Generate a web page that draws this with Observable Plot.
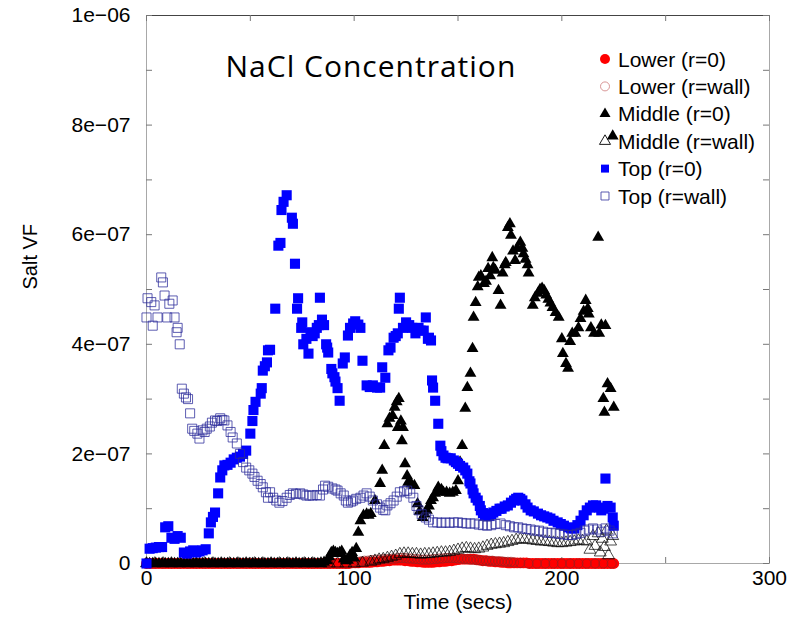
<!DOCTYPE html>
<html><head><meta charset="utf-8">
<script src="https://cdn.jsdelivr.net/npm/d3@7"></script>
<script src="https://cdn.jsdelivr.net/npm/@observablehq/plot@0.6"></script>
<style>body{margin:0;background:#fff;} #chart{width:806px;height:625px;}</style>
</head><body><div id="chart"></div>
<script>
// ---- Data: [time (s), Salt VF in units of 1e-7] ----
const lowerR0 = [[0,0],[1.5,0],[3,0],[4.5,0],[6,0],[7.5,0],[9,0],[10.5,0],[12,0],[13.5,0],[15,0],[16.5,0],[18,0],[19.5,0],[21,0],[22.5,0],[24,0],[25.5,0],[27,0],[28.5,0],[30,0],[31.5,0],[33,0],[34.5,0],[36,0],[37.5,0],[39,0],[40.5,0],[42,0],[43.5,0],[45,0],[46.5,0],[48,0],[49.5,0],[51,0],[52.5,0],[54,0],[55.5,0],[57,0],[58.5,0],[60,0],[61.5,0],[63,0],[64.5,0],[66,0],[67.5,0],[69,0],[70.5,0],[72,0],[73.5,0],[75,0],[76.5,0],[78,0],[79.5,0],[81,0],[82.5,0],[84,0],[85.5,0],[87,0],[88.5,0],[90,0],[91.5,0],[93,0],[94.5,0],[96,0],[97.5,0],[99,0.01],[100.5,0.01],[102,0.01],[103.5,0.02],[105,0.02],[106.5,0.02],[108,0.02],[109.5,0.03],[111,0.03],[112.5,0.04],[114,0.04],[115.5,0.05],[117,0.05],[118.5,0.06],[120,0.06],[121.5,0.06],[123,0.06],[124.5,0.05],[126,0.05],[127.5,0.04],[129,0.04],[130.5,0.03],[132,0.03],[133.5,0.02],[135,0.02],[136.5,0.02],[138,0.02],[139.5,0.03],[141,0.03],[142.5,0.04],[144,0.04],[145.5,0.05],[147,0.05],[148.5,0.06],[150,0.07],[151.5,0.08],[153,0.08],[154.5,0.08],[156,0.08],[157.5,0.08],[159,0.07],[160.5,0.06],[162,0.05],[163.5,0.05],[165,0.04],[166.5,0.04],[168,0.03],[169.5,0.03],[171,0.02],[172.5,0.02],[174,0.01],[175.5,0.01],[177,0.01],[178.5,0.01],[180,0.01],[181.5,0.01],[183,0.01],[184.5,0],[186,0],[187.5,0],[189,0],[190.5,0],[192,0],[193.5,0],[195,0],[196.5,0],[198,0],[199.5,0],[201,0],[202.5,0],[204,0],[205.5,0],[207,0],[208.5,0],[210,0],[211.5,0],[213,0],[214.5,0],[216,0],[217.5,0],[219,0],[220.5,0],[222,0],[223.5,0],[225,0]];

const lowerRwall = [[0,0],[4,0],[8,0],[12,0],[16,0],[20,0],[24,0],[28,0],[32,0],[36,0],[40,0],[44,0],[48,0],[52,0],[56,0],[60,0],[64,0],[68,0],[72,0],[76,0],[80,0],[84,0],[88,0],[92,0],[96,0],[99,0.02],[100.5,0.02],[102,0.03],[103.5,0.04],[105,0.05],[106.5,0.05],[108,0.06],[109.5,0.06],[111,0.07],[112.5,0.07],[114,0.08],[115.5,0.08],[117,0.08],[118.5,0.09],[120,0.09],[121.5,0.1],[123,0.1],[124.5,0.1],[126,0.09],[127.5,0.09],[129,0.08],[130.5,0.08],[132,0.07],[133.5,0.07],[135,0.07],[136.5,0.07],[138,0.08],[139.5,0.08],[141,0.09],[142.5,0.09],[144,0.1],[145.5,0.1],[147,0.1],[148.5,0.1],[150,0.09],[151.5,0.09],[153,0.08],[154.5,0.08],[156,0.07],[157.5,0.07],[159,0.06],[160.5,0.06],[162,0.05],[163.5,0.05],[165,0.05],[166.5,0.05],[168,0.04],[169.5,0.04],[171,0.04],[172.5,0.03],[174,0.03],[175.5,0.03],[177,0.02],[180,0.01],[184,0],[188,0],[192,0],[196,0],[200,0],[204,0],[208,0],[212,0],[216,0],[220,0],[224,0]];

const middleR0 = [[0,0],[1.5,0],[3,0],[4.5,0],[6,0],[7.5,0],[9,0],[10.5,0],[12,0],[13.5,0],[15,0],[16.5,0],[18,0],[19.5,0],[21,0],[22.5,0],[24,0],[25.5,0],[27,0],[28.5,0],[30,0],[31.5,0],[33,0],[34.5,0],[36,0],[37.5,0],[39,0],[40.5,0],[42,0],[43.5,0],[45,0],[46.5,0],[48,0],[49.5,0],[51,0],[52.5,0],[54,0],[55.5,0],[57,0],[58.5,0],[60,0],[61.5,0],[63,0],[64.5,0],[66,0],[67.5,0],[69,0],[70.5,0],[72,0],[73.5,0],[75,0],[76.5,0],[78,0],[79.5,0],[81,0],[82.5,0],[84,0],[85.5,0.02],[87,0.05],[88,0.12],[89,0.2],[90,0.22],[91,0.2],[92,0.18],[93,0.2],[94,0.22],[95,0.08],[96,0.05],[97,0.06],[98,0.15],[99,0.2],[100,0.1],[101,0.27],[102,0.57],[103,0.78],[104.5,0.88],[106,0.9],[107,0.88],[108,0.91],[110,1.15],[112.5,1.46],[113.5,1.7],[114.5,2.15],[116,2.55],[117,2.65],[118.5,2.7],[119.5,2.85],[120.5,2.95],[121,2.48],[121.5,3.01],[122.5,2.6],[123,2.24],[123.5,2.48],[124.5,1.82],[125.5,1.6],[126,1.48],[127.5,1.45],[129,1.42],[130.5,1.09],[131.5,0.95],[133,0.84],[134,0.9],[135,0.97],[136,1.05],[137,1.15],[138,1.2],[139,1.28],[140.5,1.39],[142,1.35],[143,1.3],[144.5,1.3],[146,1.28],[147.5,1.3],[149,1.33],[150,1.51],[151,1.85],[152,2.15],[153.5,2.83],[154.5,3.21],[156,3.47],[157,3.92],[157.5,4.49],[158.5,4.76],[159.5,5.05],[160,5.22],[161,5.25],[162.5,5.11],[163.5,5.15],[164.5,5.38],[165.5,5.25],[166.5,5.58],[167,5.4],[168,5.35],[169.5,4.98],[170.5,4.71],[171.5,5.3],[172.5,5.45],[173,5.49],[174,6.13],[175,6.2],[175.5,5.99],[176.5,5.7],[177.5,5.53],[178.5,5.75],[180,5.86],[181,5.75],[181.5,5.65],[182.5,5.55],[183.5,5.45],[184,5.3],[186,4.71],[187,4.85],[188.5,4.93],[189.5,5.0],[190.5,5.02],[191.5,4.98],[192.5,4.9],[193.5,4.82],[194.5,4.75],[195.5,4.67],[197,4.58],[198.5,4.49],[200,4.1],[200.5,3.83],[202,3.65],[203,3.56],[204,4.05],[205,4.2],[206.5,4.2],[208,4.3],[209,4.47],[210.5,4.6],[211.5,4.8],[212.5,4.65],[213,4.55],[214,4.3],[215.5,4.2],[217.5,5.95],[218,4.2],[219,4.35],[220,3.01],[220.5,2.76],[221,4.34],[222,3.28],[223.5,3.19],[224.5,7.8],[225,2.85]];

const middleRwall = [[0,0],[4,0],[8,0],[12,0],[16,0],[20,0],[24,0],[28,0],[32,0],[36,0],[40,0],[44,0],[48,0],[52,0],[56,0],[60,0],[64,0],[68,0],[72,0],[76,0],[80,0],[84,0],[88,0],[92,0],[96,0],[100,0],[104,0.01],[108,0.03],[110,0.05],[112,0.07],[114,0.08],[116,0.1],[118,0.12],[120,0.14],[122,0.17],[124,0.18],[126,0.18],[128,0.17],[130,0.17],[132,0.16],[134,0.17],[136,0.17],[138,0.18],[140,0.19],[142,0.2],[144,0.2],[146,0.21],[148,0.23],[150,0.25],[152,0.27],[154,0.28],[156,0.27],[158,0.26],[160,0.27],[162,0.29],[164,0.32],[166,0.34],[168,0.35],[170,0.36],[172,0.37],[174,0.39],[176,0.41],[178,0.43],[180,0.44],[182,0.44],[184,0.43],[186,0.42],[188,0.41],[190,0.4],[192,0.4],[194,0.39],[196,0.38],[198,0.37],[200,0.37],[202,0.38],[204,0.39],[206,0.4],[208,0.42],[210,0.41],[212,0.4],[213.5,0.25],[215,0.5],[216,0.32],[217.5,0.55],[218.5,0.2],[219.5,0.45],[220.5,0.3],[221.5,0.6],[222.5,0.15],[223.5,0.4],[224.5,0.5]];

const topR0 = [[0,0],[1.5,0.27],[3,0.28],[4.5,0.29],[6,0.3],[7.5,0.3],[9,0.66],[10.5,0.68],[12,0.47],[13.5,0.45],[15,0.5],[16.5,0.47],[18,0.2],[19.5,0.18],[21,0.22],[22.5,0.24],[24,0.2],[25.5,0.22],[27,0.24],[28.5,0.26],[30,0.55],[31,0.75],[32,0.85],[33,0.93],[34.5,1.28],[35.5,1.57],[36.5,1.7],[37.5,1.79],[39,1.8],[40.5,1.84],[42,1.9],[43.5,1.93],[45,1.95],[46.5,2.0],[48,2.06],[50,2.37],[51,2.6],[51.5,2.8],[52.5,2.95],[55,3.1],[55.5,3.2],[56,3.52],[57,3.6],[58,3.67],[58.5,3.89],[59.5,3.9],[62,4.65],[63.5,5.8],[64.5,5.85],[65,6.45],[66,6.6],[67.5,6.72],[70,6.31],[70.5,6.2],[71.5,5.47],[72.5,4.65],[73,4.84],[74.5,4.3],[75,4.4],[75.5,4.0],[77,4.1],[78,3.83],[79,4.22],[80,4.15],[81,4.2],[82,4.3],[83,4.35],[83.5,4.85],[84.5,4.45],[85.5,4.35],[86.5,4.0],[87,3.94],[87.5,3.85],[89,3.55],[89.5,3.47],[90.5,3.4],[91,3.32],[92,3.2],[93,2.97],[94.5,3.65],[95.5,3.76],[97,4.16],[98,4.3],[99.5,4.38],[100.5,4.42],[102,4.36],[103,4.3],[104,3.7],[106,3.25],[107.5,3.22],[109,3.25],[111,3.21],[112.5,3.21],[113.5,3.58],[115,3.39],[116.5,3.89],[117.5,3.94],[119,4.12],[120,4.15],[121,4.2],[121.5,4.65],[122,4.85],[123.5,4.3],[125,4.4],[126.5,4.35],[128,4.3],[129.5,4.2],[131,4.3],[132,4.25],[133.5,4.25],[134.5,4.49],[135.5,4.1],[136,4.12],[137,4.07],[137.5,3.34],[138,3.21],[139,2.97],[140.5,2.55],[141.5,2.15],[142,2.05],[143,1.97],[144,1.93],[145,1.92],[146.5,1.92],[148,1.88],[149,1.85],[150,1.82],[151,1.78],[152.5,1.75],[153.5,1.7],[154.5,1.64],[155.5,1.5],[156,1.46],[157,1.35],[157.5,1.28],[158.5,1.2],[159.5,1.15],[160.5,1.05],[161,0.97],[162,0.92],[163,0.88],[164,0.88],[165,0.87],[166,0.9],[167,0.93],[168.5,0.96],[170,1.0],[171,1.0],[172.5,1.04],[174,1.06],[175.5,1.11],[177,1.15],[178,1.18],[179,1.2],[180,1.18],[181,1.15],[182.5,1.08],[183.5,1.02],[185,0.97],[186.5,0.95],[188.5,0.91],[190,0.88],[191.5,0.86],[193,0.84],[194.5,0.82],[196,0.78],[198,0.75],[199.5,0.72],[201,0.69],[203,0.66],[204.5,0.64],[206,0.64],[207.5,0.7],[209,0.78],[210.5,0.88],[212,0.97],[213.5,1.02],[215,1.06],[216.5,1.06],[218,1.02],[219,0.97],[220,1.0],[221,1.55],[222,1.05],[223.5,1.02],[224.5,0.84],[225,0.69]];

const topRwall = [[0,4.49],[0.5,4.84],[2.3,4.77],[3,4.34],[3.9,4.71],[5.3,4.49],[7.1,5.22],[7.9,5.13],[8.7,4.89],[10,4.49],[11,4.74],[12.6,4.8],[13.5,4.49],[14.5,4.22],[15,4.3],[16,4.0],[17,3.19],[18,3.1],[19,3.03],[20,3.0],[21,2.74],[22,2.46],[23,2.42],[24.5,2.37],[25.5,2.28],[27,2.43],[28,2.4],[29,2.46],[30.5,2.5],[31.5,2.57],[33,2.61],[34,2.6],[35.5,2.65],[36.5,2.62],[37.5,2.61],[39,2.52],[40.5,2.4],[41.5,2.3],[43.5,2.19],[45,2.0],[46.5,1.85],[48,1.75],[49.5,1.7],[51,1.64],[52,1.58],[53.5,1.51],[55,1.45],[56,1.39],[57.5,1.3],[58.5,1.2],[59.5,1.3],[61,1.2],[62.5,1.15],[64,1.11],[65.5,1.14],[67.5,1.2],[69,1.25],[70.5,1.28],[72,1.27],[74,1.28],[75.5,1.26],[77,1.24],[78.5,1.24],[80,1.24],[82,1.25],[83.5,1.24],[85,1.35],[86,1.42],[87.5,1.4],[89.5,1.37],[91,1.35],[92,1.33],[93.5,1.28],[95,1.24],[96,1.15],[97,1.11],[98.5,1.13],[99.5,1.15],[101,1.18],[103,1.2],[104.5,1.24],[106,1.28],[107.5,1.22],[109,1.15],[111,1.08],[112.5,1.02],[114,0.98],[115,0.97],[116,1.06],[117.5,1.1],[119,1.15],[120.5,1.22],[122,1.3],[124,1.32],[125.5,1.33],[127,1.28],[128.5,1.2],[130,1.05],[131,0.97],[132.5,0.9],[134.5,0.84],[136,0.8],[138,0.75],[140,0.75],[142,0.74],[144,0.75],[146,0.74],[148,0.75],[150,0.75],[152,0.74],[154,0.73],[156,0.73],[158,0.73],[160,0.71],[162,0.7],[164,0.69],[166,0.7],[168,0.72],[170.5,0.73],[173,0.7],[175,0.68],[177,0.66],[179,0.66],[181,0.64],[183,0.63],[185,0.62],[187,0.6],[189,0.6],[191,0.58],[193,0.56],[195,0.56],[197,0.55],[199,0.54],[201,0.53],[203,0.52],[205,0.52],[207,0.54],[209,0.56],[211,0.6],[213,0.62],[215,0.64],[217,0.62],[219,0.58],[221,0.64],[223,0.6],[224.5,0.55]];

const seriesNames = ["Lower (r=0)", "Lower (r=wall)", "Middle (r=0)", "Middle (r=wall)", "Top (r=0)", "Top (r=wall)"];
const xTicks = [0, 100, 200, 300];
const xTickLabels = ["0", "100", "200", "300"];
const xMinorTicks = [0, 50, 100, 150, 200, 250, 300];
const yTicks = [0, 2e-7, 4e-7, 6e-7, 8e-7, 1e-6];
const yTickLabels = ["0", "2e\u221207", "4e\u221207", "6e\u221207", "8e\u221207", "1e\u221206"];
const yMinorTicks = [0, 1e-7, 2e-7, 3e-7, 4e-7, 5e-7, 6e-7, 7e-7, 8e-7, 9e-7, 1e-6];
const titleText = "NaCl Concentration";
const xLabel = "Time (secs)";
const yLabel = "Salt VF";

// ---- Build ----
const W = 806, H = 625, mL = 146, mR = 37, mT = 15, mB = 62;
const plotW = W - mL - mR, plotH = H - mT - mB;
const rows = (arr) => arr.map(([t, v]) => ({t, v: v * 1e-7}));

const styles = [
  {symbol: "circle", r: 5.4, fill: "#ff0000", stroke: "none"},
  {symbol: "circle", r: 4.6, fill: "none", stroke: "#9a2020", strokeWidth: 0.7},
  {symbol: "triangle", r: 4.4, fill: "#000", stroke: "none"},
  {symbol: "triangle", r: 4.4, fill: "none", stroke: "#000", strokeWidth: 0.7},
  {symbol: "square", r: 5.7, fill: "#0000ff", stroke: "none"},
  {symbol: "square", r: 5.1, fill: "none", stroke: "#2a2a9a", strokeWidth: 0.9, strokeOpacity: 0.85}
];
const seriesData = [lowerR0, lowerRwall, middleR0, middleRwall, topR0, topRwall];

const chart = Plot.plot({
  width: W, height: H,
  marginLeft: mL, marginRight: mR, marginTop: mT, marginBottom: mB,
  style: {fontFamily: "'Liberation Sans', Arial, sans-serif", fontSize: "21px", color: "#000", background: "#fff", overflow: "visible"},
  x: {domain: [0, 300]},
  y: {domain: [0, 1e-6]},
  marks: [
    Plot.frame({stroke: "#a8a8a8"}),
    Plot.ruleY([1e-6], {stroke: "#444"}),
    Plot.tickX(xMinorTicks, {insetTop: plotH - 6, stroke: "#777"}),
    Plot.tickX(xMinorTicks, {insetBottom: plotH - 6, stroke: "#777"}),
    Plot.tickY(yMinorTicks, {insetRight: plotW - 6, stroke: "#777"}),
    Plot.tickY(yMinorTicks, {insetLeft: plotW - 6, stroke: "#777"}),
    Plot.axisX({ticks: xTicks, tickSize: 0, tickPadding: 7, label: null, tickFormat: d => xTickLabels[xTicks.indexOf(d)]}),
    Plot.axisY({ticks: yTicks, tickSize: 0, tickPadding: 16, label: null, tickFormat: d => yTickLabels[yTicks.indexOf(d)]}),
    ...seriesData.map((s, i) => Plot.dot(rows(s), {x: "t", y: "v", ...styles[i]})),
    Plot.text([yLabel], {frameAnchor: "left", dx: -116, rotate: -90, fontSize: 20}),
    Plot.text([xLabel], {frameAnchor: "bottom", dy: 45, fontSize: 21}),
    Plot.text([titleText], {frameAnchor: "top-left", dx: 79, dy: 40, textAnchor: "start", fontSize: 30, fontFamily: "'Open Sans', sans-serif", className: "chart-title"})
  ]
});
document.getElementById("chart").appendChild(chart);
d3.select(chart).selectAll(".chart-title text").attr("letter-spacing", "1px");

// ---- Legend (inside plot, top-right) ----
const svg = d3.select(chart);
const lg = svg.append("g")
  .attr("font-family", "'Liberation Sans', Arial, sans-serif")
  .attr("font-size", 21)
  .attr("text-anchor", "start");
const legendSym = {circle: d3.symbolCircle, triangle: d3.symbolTriangle, square: d3.symbolSquare};
const legendSizes = [5, 4.5, 4.1, 4.1, 4.5, 4.5];
const legendStroke = ["none", "#d48a8a", "none", "#000", "none", "#4848a8"];
seriesNames.forEach((name, i) => {
  const cy = 59 + i * 27.4, cx = 605;
  const st = styles[i];
  lg.append("path")
    .attr("transform", `translate(${cx},${cy})`)
    .attr("d", d3.symbol(legendSym[st.symbol], Math.PI * legendSizes[i] ** 2)())
    .attr("fill", st.fill === "none" ? "none" : st.fill)
    .attr("stroke", legendStroke[i])
    .attr("stroke-width", 0.9);
  lg.append("text").attr("x", 618).attr("y", cy).attr("dy", "0.36em").attr("fill", "#000").attr("text-anchor", "start").text(name);
});
</script>
</body></html>
